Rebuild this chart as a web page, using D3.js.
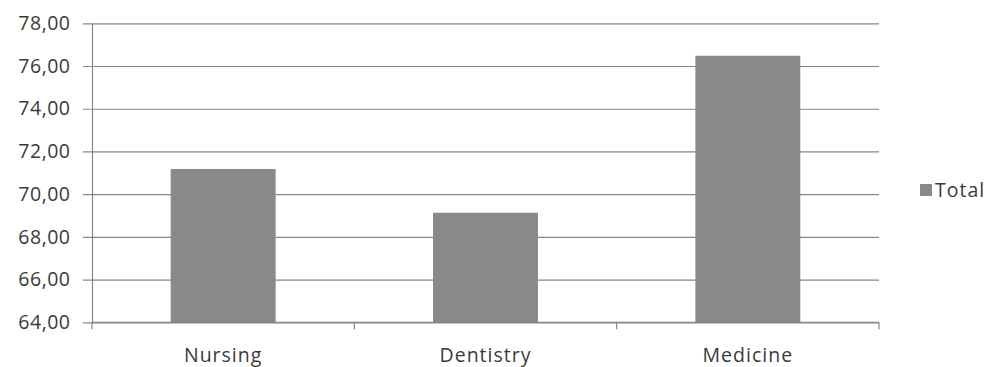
<!DOCTYPE html>
<html>
<head>
<meta charset="utf-8">
<script src="https://cdn.jsdelivr.net/npm/d3@7/dist/d3.min.js"></script>
<style>
  html, body { margin: 0; padding: 0; background: #fff; }
  svg text { font-family: "Open Sans", "Noto Sans", sans-serif; fill: #3a3a3a; }
</style>
</head>
<body>
<svg id="chart" width="995" height="367"></svg>
<script>
// Programme scores per school
const categories = ["Nursing", "Dentistry", "Medicine"];
const totals = [71.18, 69.13, 76.48];
const seriesName = "Total";
const yTicks = [64, 66, 68, 70, 72, 74, 76, 78];

const svg = d3.select("#chart");
const margin = { left: 92, right: 116, top: 23.3, bottom: 44.7 };
const width = 995, height = 367;

const x = d3.scaleBand()
  .domain(categories)
  .range([margin.left, width - margin.right])
  .paddingInner(0.6)
  .paddingOuter(0.3);

const y = d3.scaleLinear()
  .domain([64, 78])
  .range([height - margin.bottom, margin.top]);

const gridColor = "#868686";
const fmt = v => d3.format(".2f")(v).replace(".", ",");

// Horizontal gridlines with short ticks left of the axis
const yAxis = d3.axisLeft(y)
  .tickValues(yTicks)
  .tickFormat(fmt)
  .tickSizeInner(-(width - margin.left - margin.right))
  .tickSizeOuter(0)
  .tickPadding(21.5);

const gy = svg.append("g")
  .attr("transform", `translate(${margin.left},0)`)
  .call(yAxis);
gy.select(".domain").attr("stroke", gridColor).attr("stroke-width", 1.2);
gy.selectAll(".tick line").attr("stroke", gridColor).attr("stroke-width", 1.2).attr("x1", -9);
gy.selectAll(".tick text")
  .attr("font-size", 19.5)
  .style("letter-spacing", "0.5px")
  .style("font-family", "'Open Sans', 'Noto Sans', sans-serif")
  .attr("fill", "#3a3a3a");

// Bars
svg.append("g")
  .selectAll("rect")
  .data(categories.map((c, i) => ({ c, v: totals[i] })))
  .join("rect")
  .attr("x", d => x(d.c))
  .attr("width", x.bandwidth())
  .attr("y", d => y(d.v))
  .attr("height", d => y(64) - y(d.v))
  .attr("fill", "#898989");

// Category axis with tick marks at band boundaries
const baseY = y(64);
const gx = svg.append("g");
gx.append("line")
  .attr("x1", margin.left).attr("x2", width - margin.right)
  .attr("y1", baseY).attr("y2", baseY)
  .attr("stroke", gridColor).attr("stroke-width", 1.2);
const xTickPos = d3.range(categories.length + 1).map(i => margin.left + i * (width - margin.left - margin.right) / categories.length);
gx.selectAll("line.tk")
  .data(xTickPos)
  .join("line")
  .attr("class", "tk")
  .attr("x1", d => d).attr("x2", d => d)
  .attr("y1", baseY).attr("y2", baseY + 7)
  .attr("stroke", gridColor).attr("stroke-width", 1.2);
gx.selectAll("text")
  .data(categories)
  .join("text")
  .attr("x", d => x(d) + x.bandwidth() / 2)
  .attr("y", 362)
  .attr("text-anchor", "middle")
  .attr("font-size", 19.5)
  .style("letter-spacing", "1px")
  .text(d => d);

// Legend
const lg = svg.append("g");
lg.append("rect")
  .attr("x", 920).attr("y", 184)
  .attr("width", 12).attr("height", 12)
  .attr("fill", "#898989");
lg.append("text")
  .attr("x", 935).attr("y", 197)
  .attr("font-size", 19.5)
  .style("letter-spacing", "1px")
  .text(seriesName);
</script>
</body>
</html>
